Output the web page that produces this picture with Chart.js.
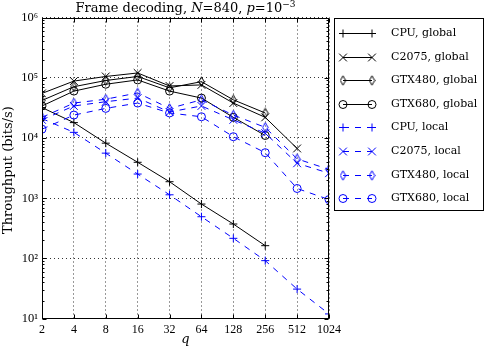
<!DOCTYPE html>
<html><head><meta charset="utf-8">
<script src="https://cdn.jsdelivr.net/npm/chart.js@4/dist/chart.umd.min.js"></script>
<style>html,body{margin:0;padding:0;background:#fff;} canvas{display:block;}</style>
</head><body>
<canvas id="c" width="485" height="348"></canvas>
<script>
// ---- data ----
const qValues = [2, 4, 8, 16, 32, 64, 128, 256, 512, 1024];
const yTickValues = [10, 100, 1000, 10000, 100000, 1000000];
const yTickLabels = ['10¹', '10²', '10³', '10⁴', '10⁵', '10⁶'];
const seriesNames = ['CPU, global', 'C2075, global', 'GTX480, global', 'GTX680, global',
                     'CPU, local', 'C2075, local', 'GTX480, local', 'GTX680, local'];
const cpuGlobal    = [32000, 18000, 8200, 3950, 1880, 800, 373, 163, null, null];
const c2075Global  = [55000, 88000, 105000, 120000, 73000, 76000, 38000, 22000, 6700, null];
const gtx480Global = [42000, 71000, 90000, 105000, 68000, 86000, 43000, 26000, null, null];
const gtx680Global = [34000, 60000, 78000, 92000, 60000, 46000, 22000, 11000, null, null];
const cpuLocal     = [21000, 12400, 5600, 2520, 1140, 493, 216, 92, 31, 12];
const c2075Local   = [20000, 34000, 40000, 46000, 27000, 34000, 20000, 12000, 3800, 2600];
const gtx480Local  = [22000, 38000, 44000, 56000, 31000, 43000, 24000, 15000, 4500, 3000];
const gtx680Local  = [14000, 24000, 31000, 38000, 26000, 22500, 10500, 5700, 1450, 950];
const seriesValues = [cpuGlobal, c2075Global, gtx480Global, gtx680Global,
                      cpuLocal, c2075Local, gtx480Local, gtx680Local];

// ---- styles ----
const BLACK = '#000000', BLUE = '#0000ff';
function thinDiamond(color) {
  const c = document.createElement('canvas');
  c.width = 7; c.height = 11;
  const g = c.getContext('2d');
  g.strokeStyle = color; g.lineWidth = 1;
  g.beginPath();
  g.moveTo(3.5, 0.8); g.lineTo(6.2, 5.5); g.lineTo(3.5, 10.2); g.lineTo(0.8, 5.5);
  g.closePath(); g.stroke();
  return c;
}
const diamondBlack = thinDiamond(BLACK), diamondBlue = thinDiamond(BLUE);
const markerFor = (i) => {
  const k = i % 4, blue = i >= 4;
  if (k === 0) return { style: 'cross', r: 4 };
  if (k === 1) return { style: 'crossRot', r: 5.5 };
  if (k === 2) return { style: blue ? diamondBlue : diamondBlack, r: 4 };
  return { style: 'circle', r: 4 };
};

const datasets = seriesValues.map((vals, i) => {
  const color = i < 4 ? BLACK : BLUE;
  const m = markerFor(i);
  return {
    label: seriesNames[i],
    data: qValues.map((q, j) => ({ x: q, y: vals[j] })).filter(p => p.y !== null),
    borderColor: color,
    borderWidth: 1,
    borderDash: i < 4 ? [] : [6, 6],
    pointStyle: m.style,
    pointRadius: m.r,
    pointBorderColor: color,
    pointBackgroundColor: 'rgba(0,0,0,0)',
    pointBorderWidth: 1,
    fill: false,
    tension: 0,
    order: 8 - i
  };
});

const SERIF = "'DejaVu Serif', serif";
const TICKFONT = "'Liberation Serif', 'DejaVu Serif', serif";

const decor = {
  id: 'decor',
  afterDatasetsDraw(chart) {
    const { ctx, chartArea: a, scales: { x, y } } = chart;
    ctx.save();
    ctx.strokeStyle = '#000'; ctx.lineWidth = 1; ctx.setLineDash([]);
    const L = Math.round(a.left) + 0.5, R = Math.round(a.right) - 0.5;
    const T = Math.round(a.top) + 0.5, B = Math.round(a.bottom) - 0.5;
    ctx.beginPath();
    for (let k = 1; k <= 6; k++) {
      for (let m = 1; m <= 9; m++) {
        const v = m * Math.pow(10, k);
        if (v > 1000000) break;
        const py = Math.round(y.getPixelForValue(v)) + 0.5;
        const len = m === 1 ? 4 : 2;
        ctx.moveTo(L, py); ctx.lineTo(L + len, py);
        ctx.moveTo(R, py); ctx.lineTo(R - len, py);
      }
    }
    ctx.moveTo(L, B); ctx.lineTo(L + 4, B); ctx.moveTo(R, B); ctx.lineTo(R - 4, B);
    qValues.forEach(q => {
      const px = Math.round(x.getPixelForValue(q)) + 0.5;
      ctx.moveTo(px, B); ctx.lineTo(px, B - 4);
      ctx.moveTo(px, T); ctx.lineTo(px, T + 4);
    });
    ctx.stroke();
    ctx.strokeRect(L, T, R - L, B - T);
    ctx.restore();
  },
  afterDraw(chart) {
    const { ctx, chartArea: a } = chart;
    ctx.save();
    ctx.fillStyle = '#000';
    const parts = [
      ['Frame decoding, ', '13px ' + SERIF, 0],
      ['N', 'italic 13px ' + SERIF, 0],
      ['=840, ', '13px ' + SERIF, 0],
      ['p', 'italic 13px ' + SERIF, 0],
      ['=10', '13px ' + SERIF, 0],
      ['−3', '9px ' + SERIF, -5]
    ];
    let total = 0;
    parts.forEach(p => { ctx.font = p[1]; total += ctx.measureText(p[0]).width; });
    let tx = (a.left + a.right) / 2 - total / 2;
    ctx.textBaseline = 'alphabetic'; ctx.textAlign = 'left';
    parts.forEach(p => { ctx.font = p[1]; ctx.fillText(p[0], tx, 12 + p[2]); tx += ctx.measureText(p[0]).width; });
    ctx.font = '13px ' + SERIF; ctx.textAlign = 'center'; ctx.textBaseline = 'middle';
    ctx.save();
    ctx.translate(9, (a.top + a.bottom) / 2 + 2);
    ctx.rotate(-Math.PI / 2);
    ctx.fillText('Throughput (bits/s)', 0, 0);
    ctx.restore();
    ctx.font = 'italic 13px ' + SERIF;
    ctx.fillText('q', (a.left + a.right) / 2, 340);
    const bx = 334.5, by = 18.5, bw = 149, bh = 192;
    ctx.strokeStyle = '#000'; ctx.lineWidth = 1; ctx.setLineDash([]);
    ctx.strokeRect(bx, by, bw, bh);
    datasets.forEach((ds, i) => {
      const ly = Math.round(33 + i * 23.6) + 0.5;
      const x1 = 343, x2 = 372;
      ctx.save();
      ctx.strokeStyle = ds.borderColor; ctx.lineWidth = 1;
      ctx.setLineDash(ds.borderDash);
      ctx.beginPath(); ctx.moveTo(x1, ly); ctx.lineTo(x2, ly); ctx.stroke();
      ctx.setLineDash([]);
      ctx.fillStyle = 'rgba(0,0,0,0)';
      [x1, x2].forEach(px => {
        Chart.helpers.drawPoint(ctx, { pointStyle: ds.pointStyle, radius: ds.pointRadius, rotation: 0, borderWidth: 1 }, px, ly);
      });
      ctx.restore();
      ctx.font = '11px ' + SERIF; ctx.textAlign = 'left'; ctx.textBaseline = 'middle'; ctx.fillStyle = '#000';
      ctx.fillText(ds.label, 391, ly);
    });
    ctx.restore();
  }
};

new Chart(document.getElementById('c'), {
  type: 'line',
  data: { datasets },
  options: {
    responsive: false, animation: false, devicePixelRatio: 1, events: [],
    layout: { padding: { left: 0, right: 156, top: 17.5, bottom: 0 } },
    plugins: { legend: { display: false }, title: { display: false }, tooltip: { enabled: false } },
    scales: {
      x: {
        type: 'logarithmic', min: 2, max: 1024,
        afterBuildTicks: s => { s.ticks = qValues.map(v => ({ value: v })); },
        afterFit: s => { s.height = 29.3; },
        ticks: { autoSkip: false, maxRotation: 0, minRotation: 0, padding: 4, color: '#000',
                 font: { family: TICKFONT, size: 12 }, callback: v => String(v) },
        grid: { color: '#333', lineWidth: 1, drawTicks: false },
        border: { display: false, dash: [1, 3] }
      },
      y: {
        type: 'logarithmic', min: 10, max: 1000000,
        afterBuildTicks: s => { s.ticks = yTickValues.map(v => ({ value: v })); },
        afterFit: s => { s.width = 42; },
        ticks: { autoSkip: false, padding: 4, color: '#000',
                 font: { family: TICKFONT, size: 12.5 },
                 callback: v => { const i = yTickValues.indexOf(v); return i >= 0 ? yTickLabels[i] : ''; } },
        grid: { color: '#333', lineWidth: 1, drawTicks: false },
        border: { display: false, dash: [1, 3] }
      }
    }
  },
  plugins: [decor]
});
</script>
</body></html>
